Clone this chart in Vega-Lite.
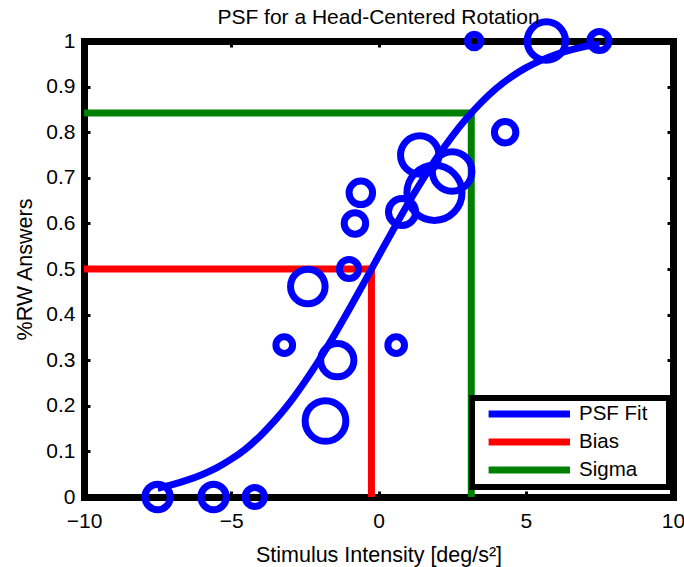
{
  "$schema": "https://vega.github.io/schema/vega-lite/v6.json",
  "width": 589,
  "height": 456,
  "autosize": {"type": "none"},
  "padding": {"left": 84, "top": 41, "right": 11, "bottom": 70},
  "background": "white",
  "title": {"text": "PSF for a Head-Centered Rotation", "fontSize": 21, "font": "Liberation Sans", "fontWeight": "normal", "color": "black", "offset": -20, "anchor": "middle"},
  "config": {
    "view": {"stroke": null},
    "axis": {"grid": false, "domainColor": "black", "domainWidth": 7, "domainCap": "square", "tickColor": "black", "tickWidth": 3, "tickSize": -6, "labelFont": "Liberation Sans", "labelFontSize": 21, "labelColor": "black", "titleFont": "Liberation Sans", "titleFontSize": 21.5, "titleFontWeight": "normal", "titleColor": "black", "zindex": 1, "labelOverlap": false, "labelFlush": false},
    "legend": {"orient": "none", "legendX": 388, "legendY": 357, "strokeColor": "black", "strokeWidth": 6, "fillColor": "white", "padding": 2.5, "symbolType": "M0.06,0H8.2M16.43,0H16.43", "symbolSize": 400, "symbolStrokeWidth": 7, "labelFont": "Liberation Sans", "labelFontSize": 20.5, "labelColor": "black", "labelOffset": 77.5, "rowPadding": -1.5, "cornerRadius": 0}
  },
  "datasets": {
    "guides": [
      {"series": "Bias", "x": -10, "y": 0.5, "order": 1},
      {"series": "Bias", "x": -0.24, "y": 0.5, "order": 2},
      {"series": "Bias", "x": -0.24, "y": 0, "order": 3},
      {"series": "Sigma", "x": -10, "y": 0.842, "order": 1},
      {"series": "Sigma", "x": 3.15, "y": 0.842, "order": 2},
      {"series": "Sigma", "x": 3.15, "y": 0, "order": 3}
    ],
    "curve": [
      {"series": "PSF Fit", "x": -7.5, "y": 0.019},
      {"series": "PSF Fit", "x": -7, "y": 0.027},
      {"series": "PSF Fit", "x": -6.5, "y": 0.037},
      {"series": "PSF Fit", "x": -6, "y": 0.049},
      {"series": "PSF Fit", "x": -5.5, "y": 0.064},
      {"series": "PSF Fit", "x": -5, "y": 0.083},
      {"series": "PSF Fit", "x": -4.5, "y": 0.106},
      {"series": "PSF Fit", "x": -4, "y": 0.135},
      {"series": "PSF Fit", "x": -3.5, "y": 0.169},
      {"series": "PSF Fit", "x": -3, "y": 0.208},
      {"series": "PSF Fit", "x": -2.5, "y": 0.253},
      {"series": "PSF Fit", "x": -2, "y": 0.302},
      {"series": "PSF Fit", "x": -1.5, "y": 0.355},
      {"series": "PSF Fit", "x": -1, "y": 0.411},
      {"series": "PSF Fit", "x": -0.5, "y": 0.469},
      {"series": "PSF Fit", "x": 0, "y": 0.528},
      {"series": "PSF Fit", "x": 0.5, "y": 0.586},
      {"series": "PSF Fit", "x": 1, "y": 0.643},
      {"series": "PSF Fit", "x": 1.5, "y": 0.696},
      {"series": "PSF Fit", "x": 2, "y": 0.746},
      {"series": "PSF Fit", "x": 2.5, "y": 0.791},
      {"series": "PSF Fit", "x": 3, "y": 0.831},
      {"series": "PSF Fit", "x": 3.5, "y": 0.866},
      {"series": "PSF Fit", "x": 4, "y": 0.896},
      {"series": "PSF Fit", "x": 4.5, "y": 0.921},
      {"series": "PSF Fit", "x": 5, "y": 0.941},
      {"series": "PSF Fit", "x": 5.5, "y": 0.957},
      {"series": "PSF Fit", "x": 6, "y": 0.970},
      {"series": "PSF Fit", "x": 6.5, "y": 0.980},
      {"series": "PSF Fit", "x": 7, "y": 0.988},
      {"series": "PSF Fit", "x": 7.5, "y": 0.993}
    ],
    "trials": [
      {"x": -7.5, "y": 0, "n": 7},
      {"x": -5.6, "y": 0, "n": 7},
      {"x": -4.2, "y": 0, "n": 4},
      {"x": -3.2, "y": 0.333, "n": 3},
      {"x": -2.4, "y": 0.4615, "n": 13},
      {"x": -1.8, "y": 0.1667, "n": 18},
      {"x": -1.4, "y": 0.3, "n": 12},
      {"x": -1.0, "y": 0.5, "n": 4},
      {"x": -0.8, "y": 0.6, "n": 5},
      {"x": -0.6, "y": 0.667, "n": 6},
      {"x": 0.6, "y": 0.333, "n": 3},
      {"x": 0.8, "y": 0.625, "n": 8},
      {"x": 1.4, "y": 0.75, "n": 16},
      {"x": 1.9, "y": 0.667, "n": 33},
      {"x": 2.5, "y": 0.714, "n": 17},
      {"x": 3.25, "y": 1, "n": 2},
      {"x": 4.3, "y": 0.8, "n": 5},
      {"x": 5.7, "y": 1, "n": 16},
      {"x": 7.5, "y": 1, "n": 4}
    ]
  },
  "layer": [
    {
      "data": {"name": "guides"},
      "mark": {"type": "line", "strokeWidth": 7, "strokeJoin": "miter", "strokeCap": "butt"},
      "encoding": {
        "x": {"field": "x", "type": "quantitative", "scale": {"domain": [-10, 10], "nice": false, "zero": false},
          "axis": {"orient": "bottom", "values": [-10, -5, 0, 5, 10], "title": "Stimulus Intensity [deg/s²]", "labelPadding": 19, "titlePadding": 13}},
        "y": {"field": "y", "type": "quantitative", "scale": {"domain": [0, 1], "nice": false},
          "axis": {"orient": "left", "values": [0, 0.1, 0.2, 0.3, 0.4, 0.5, 0.6, 0.7, 0.8, 0.9, 1], "format": ".1~f", "title": "%RW Answers", "labelPadding": 15, "titlePadding": 9}},
        "color": {"field": "series", "type": "nominal", "scale": {"domain": ["PSF Fit", "Bias", "Sigma"], "range": ["#0000ff", "#ff0000", "#008000"]}, "legend": {"title": null, "orient": "none", "legendX": 388, "legendY": 357}},
        "order": {"field": "order", "type": "quantitative"}
      }
    },
    {
      "data": {"name": "curve"},
      "mark": {"type": "line", "strokeWidth": 7, "interpolate": "monotone", "strokeCap": "butt"},
      "encoding": {
        "x": {"field": "x", "type": "quantitative", "axis": null},
        "y": {"field": "y", "type": "quantitative", "axis": null},
        "color": {"field": "series", "type": "nominal", "legend": {"title": null, "orient": "none", "legendX": 388, "legendY": 357}}
      }
    },
    {
      "data": {"name": "trials"},
      "mark": {"type": "point", "shape": "circle", "filled": false, "stroke": "#0000ff", "strokeWidth": 7, "opacity": 1},
      "encoding": {
        "x": {"field": "x", "type": "quantitative", "axis": {"orient": "top", "values": [-10, -5, 0, 5, 10], "labels": false, "title": null}},
        "y": {"field": "y", "type": "quantitative", "axis": {"orient": "right", "values": [0, 0.1, 0.2, 0.3, 0.4, 0.5, 0.6, 0.7, 0.8, 0.9, 1], "labels": false, "title": null}},
        "size": {"field": "n", "type": "quantitative", "scale": {"type": "linear", "domain": [0, 40], "range": [0, 3680]}, "legend": null}
      }
    }
  ],
  "resolve": {"axis": {"x": "independent", "y": "independent"}}
}
